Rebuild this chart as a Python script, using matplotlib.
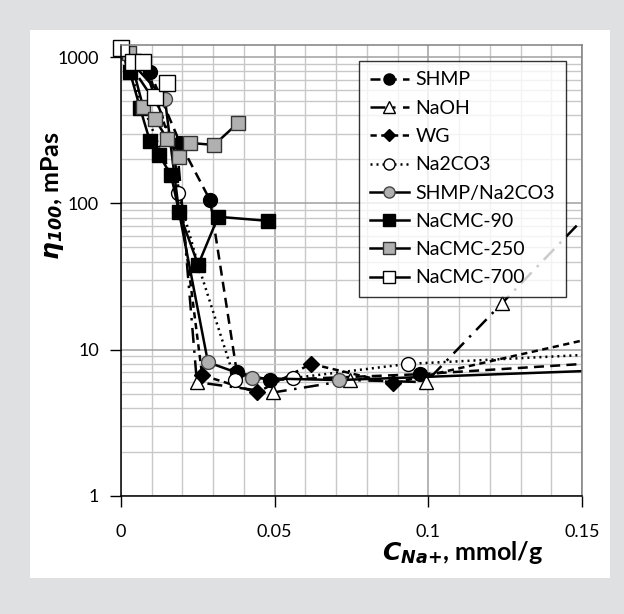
import numpy as np
import matplotlib.pyplot as plt
from matplotlib.patches import Rectangle
from matplotlib.ticker import FixedLocator, NullFormatter

plt.rcParams['font.family'] = ['Lato', 'DejaVu Sans']
plt.rcParams['mathtext.fontset'] = 'custom'
plt.rcParams['mathtext.rm'] = 'Lato'
plt.rcParams['mathtext.it'] = 'Lato:italic'
plt.rcParams['mathtext.bf'] = 'Lato:bold'
plt.rcParams['mathtext.bfit'] = 'DejaVu Sans:italic:bold'

# data (x in mmol/g, y in mPas)
shmp_x = [0, 0.0094, 0.0192, 0.029, 0.0377, 0.0485, 0.0973, 0.2]
shmp_y = [1100, 791, 259, 105, 7.0, 6.2, 6.8, 9.3]

naoh_x = [0, 0.0124, 0.0186, 0.0247, 0.0495, 0.0745, 0.0992, 0.124, 0.175]
naoh_y = [1100, 450, 200, 6.0, 5.1, 6.2, 6.0, 20.8, 270]

wg_x = [0, 0.0094, 0.0175, 0.0264, 0.0443, 0.0618, 0.0885, 0.177]
wg_y = [1100, 750, 200, 6.7, 5.1, 8.0, 5.9, 15.5]

na2co3_x = [0, 0.0185, 0.0251, 0.0371, 0.056, 0.0934, 0.2]
na2co3_y = [1100, 118, 38, 6.2, 6.4, 8.0, 10.4]

mix_x = [0, 0.0143, 0.0189, 0.0283, 0.0426, 0.0709, 0.2]
mix_y = [1100, 517, 87, 8.2, 6.4, 6.2, 7.8]

cmc90_x = [0, 0.0029, 0.0062, 0.0094, 0.0124, 0.0163, 0.0189, 0.0251, 0.0316, 0.0478]
cmc90_y = [1100, 791, 449, 267, 214, 156, 87, 38, 81, 76]

cmc250_x = [0, 0.0026, 0.0072, 0.0111, 0.015, 0.0189, 0.0225, 0.0303, 0.0381]
cmc250_y = [1100, 1067, 456, 377, 276, 208, 259, 251, 355]

cmc700_x = [0, 0.0039, 0.0072, 0.011, 0.015]
cmc700_y = [1153, 926, 926, 534, 665]

fig = plt.figure(figsize=(6.24, 6.14), dpi=100)
fig.patch.set_facecolor('#dfe0e2')
fig.patches.append(Rectangle((30 / 624, 1 - 578 / 614), 580 / 624, 548 / 614,
                             transform=fig.transFigure, facecolor='white',
                             edgecolor='none', zorder=-10))

ax = fig.add_axes([121 / 624, 1 - 496 / 614, 461 / 624, 451 / 614])
ax.set_zorder(1)
ax.set_yscale('log')
ax.set_xlim(0, 0.15)
ax.set_ylim(1, 1210)

lw = 1.8
ax.plot(shmp_x, shmp_y, color='black', lw=lw, dashes=(4, 2.5), marker='o',
        ms=10, mfc='black', mec='black', label='SHMP')
ax.plot(naoh_x, naoh_y, color='black', lw=lw, dashes=(6, 3, 1, 3), marker='^',
        ms=10, mfc='white', mec='black', mew=1, label='NaOH',
        markevery=[3, 4, 5, 6, 7])
ax.plot(wg_x, wg_y, color='black', lw=lw, dashes=(2.5, 1.8), marker='D',
        ms=8, mfc='black', mec='black', label='WG', markevery=[3, 4, 5, 6])
ax.plot(na2co3_x, na2co3_y, color='black', lw=lw, dashes=(0.8, 1.6), marker='o',
        ms=10, mfc='white', mec='black', mew=1, label='Na2CO3')
ax.plot(mix_x, mix_y, color='black', lw=lw, marker='o',
        ms=10, mfc='#b0b0b0', mec='#444444', mew=1, label='SHMP/Na2CO3')
ax.plot(cmc90_x, cmc90_y, color='black', lw=lw, marker='s',
        ms=10, mfc='black', mec='black', label='NaCMC-90')
ax.plot(cmc250_x, cmc250_y, color='black', lw=lw, marker='s',
        ms=10, mfc='#b0b0b0', mec='#333333', mew=1, label='NaCMC-250')
ax.plot(cmc700_x, cmc700_y, color='black', lw=lw, marker='s',
        ms=11, mfc='white', mec='black', mew=1, label='NaCMC-700', clip_on=False)

# grid
ax.xaxis.set_major_locator(FixedLocator([0, 0.05, 0.1, 0.15]))
ax.xaxis.set_minor_locator(FixedLocator(np.arange(0.01, 0.15, 0.01)))
ax.set_xticklabels(['0', '0.05', '0.1', '0.15'])
ax.yaxis.set_major_locator(FixedLocator([1, 10, 100, 1000]))
ax.set_yticklabels(['1', '10', '100', '1000'])
minors = [m * 10 ** e for e in range(0, 3) for m in range(2, 10)]
ax.yaxis.set_minor_locator(FixedLocator(minors))
ax.yaxis.set_minor_formatter(NullFormatter())
ax.grid(which='major', color='#a0a0a0', lw=1.1)
ax.grid(which='minor', color='#c8c8c8', lw=1.0)
ax.set_axisbelow(True)

ax.tick_params(which='major', direction='out', length=8, width=1,
               labelsize=13, color='black', pad=8)
ax.tick_params(which='minor', length=0)
ax.tick_params(axis='x', pad=12)
for s in ['left', 'bottom']:
    ax.spines[s].set_color('black')
    ax.spines[s].set_linewidth(1.1)
for s in ['top', 'right']:
    ax.spines[s].set_color('#808080')
    ax.spines[s].set_linewidth(1.1)

ax.set_ylabel(r'$\mathbfit{\eta}_{\mathbfit{100}}$, mPas', fontsize=18,
              fontweight='bold')
ax.yaxis.set_label_coords(-0.12, 0.665)
ax.set_xlabel(r'$\mathbfit{C}_{\mathbfit{Na{+}}}$, mmol/g', fontsize=18,
              fontweight='bold')
ax.xaxis.set_label_coords(0.74, -0.095)

leg = ax.legend(loc='upper right', bbox_to_anchor=(0.965, 0.965), fontsize=14,
                frameon=True, fancybox=False, edgecolor='black',
                handlelength=2.0, labelspacing=0.58, borderpad=0.55,
                handletextpad=0.35, borderaxespad=0, markerscale=0.8)
leg.get_frame().set_linewidth(1.0)
leg.set_zorder(10)

fig.savefig('out.png', dpi=100, facecolor=fig.get_facecolor())
